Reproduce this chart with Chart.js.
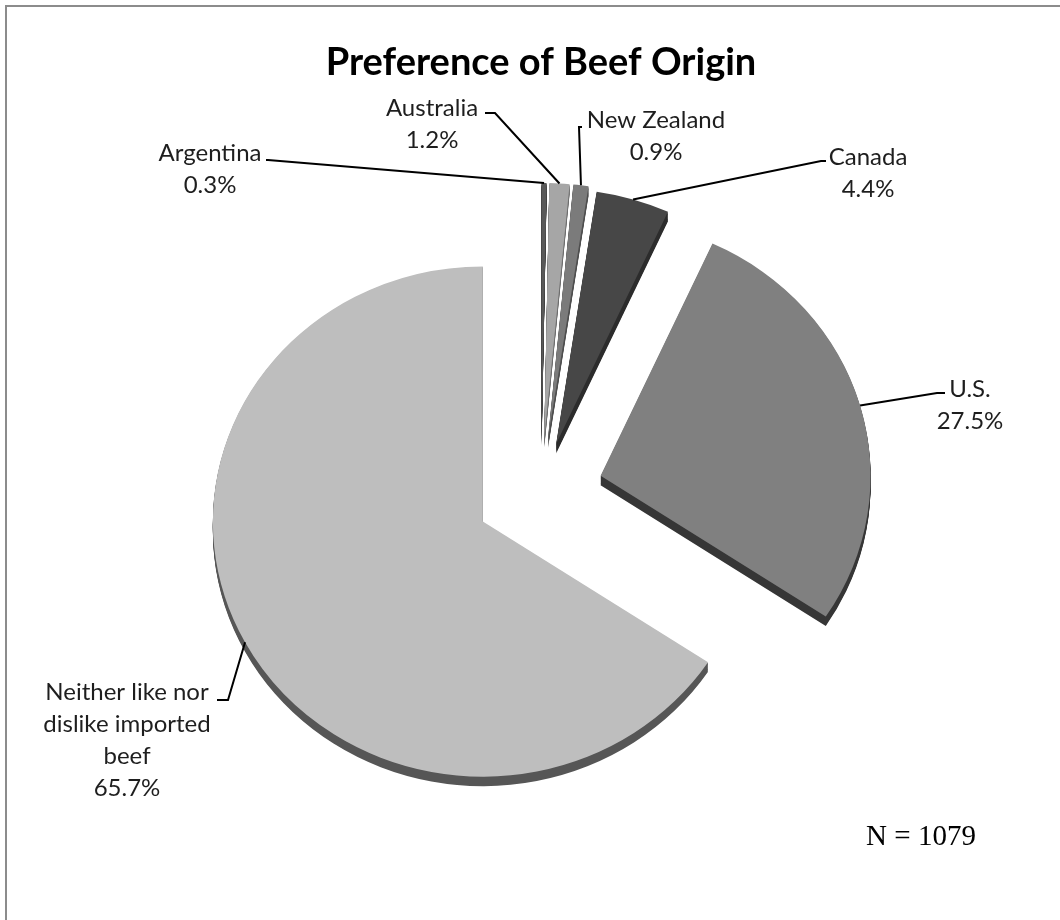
<!DOCTYPE html>
<html>
<head>
<meta charset="utf-8">
<title>Preference of Beef Origin</title>
<script src="https://cdn.jsdelivr.net/npm/chart.js@4.4.1/dist/chart.umd.min.js"></script>
<style>
  html, body { margin: 0; padding: 0; background: #fff; }
  #pie { display: block; }
</style>
</head>
<body>
<canvas id="pie" width="1060" height="920"></canvas>
<script>
// survey answers, clockwise from 12 o'clock
const categories = ['Argentina', 'Australia', 'New Zealand', 'Canada', 'U.S.',
    ['Neither like nor', 'dislike imported', 'beef']];
const shares = [0.3, 1.2, 0.9, 4.4, 27.5, 65.7];
const sampleSize = 1079;

// slice styling, same order as categories
const topColors = ['#595959', '#a6a6a6', '#7b7b7b', '#474747', '#808080', '#bebebe'];
const wallColors = ['#3a3a3a', '#6e6e6e', '#4e4e4e', '#2c2c2c', '#363636', '#565656'];
const explode = [57, 57, 57, 53, 62, 66];   // px each slice is pulled out
const depth = 10;                             // thickness of the pie
const tilt = 0.945;                           // vertical squash of the tilted pie

// where each label sits: text centre x, first line y, short stub before the leader
const labelLayout = [
    {x: 210, y: 153, stub: [266, 160, 268, 160]},
    {x: 432, y: 108, stub: [485, 113, 495, 113]},
    {x: 656, y: 120, stub: [582, 127, 579, 127]},
    {x: 868, y: 157, stub: [826, 161, 821, 161]},
    {x: 970, y: 389, stub: [945, 393, 937, 393]},
    {x: 127, y: 692, stub: [217, 700, 228, 700]}
];
const lineGap = 32;
const labelFont = '24px Lato';

function pieCentre(chart) {
    const area = chart.chartArea;
    return {cx: (area.left + area.right) / 2, cy: (area.top + area.bottom) / 2};
}

const framePlugin = {
    id: 'frame',
    beforeDraw(chart) {
        const ctx = chart.ctx;
        ctx.save();
        ctx.strokeStyle = '#8c8c8c';
        ctx.lineWidth = 2;
        ctx.strokeRect(6, 6, 2000, 2000);
        ctx.restore();
    }
};

// pull slices away from the centre, tilt the pie and draw the side walls under it
const wallPlugin = {
    id: 'walls',
    beforeDatasetsDraw(chart) {
        const ctx = chart.ctx;
        const {cx, cy} = pieCentre(chart);
        const arcs = chart.getDatasetMeta(0).data;
        arcs.forEach((arc, i) => {
            const mid = (arc.startAngle + arc.endAngle) / 2;
            arc.x = cx + Math.cos(mid) * explode[i];
            arc.y = cy + Math.sin(mid) * explode[i];
        });
        ctx.save();
        ctx.translate(0, cy * (1 - tilt));
        ctx.scale(1, tilt);
        arcs.forEach((arc, i) => {
            ctx.fillStyle = wallColors[i];
            for (let d = 1; d <= depth; d++) {
                ctx.beginPath();
                ctx.moveTo(arc.x, arc.y + d);
                ctx.arc(arc.x, arc.y + d, arc.outerRadius, arc.startAngle, arc.endAngle);
                ctx.closePath();
                ctx.fill();
            }
        });
    },
    afterDatasetsDraw(chart) {
        chart.ctx.restore();
    }
};

const labelPlugin = {
    id: 'sliceLabels',
    afterDatasetsDraw(chart) {
        const ctx = chart.ctx;
        const {cy} = pieCentre(chart);
        const arcs = chart.getDatasetMeta(0).data;
        ctx.save();
        arcs.forEach((arc, i) => {
            const lay = labelLayout[i];
            const mid = (arc.startAngle + arc.endAngle) / 2;
            const ax = arc.x + Math.cos(mid) * arc.outerRadius;
            const ay = cy + (arc.y + Math.sin(mid) * arc.outerRadius - cy) * tilt;

            ctx.strokeStyle = '#000';
            ctx.lineWidth = 2;
            ctx.beginPath();
            ctx.moveTo(lay.stub[0], lay.stub[1]);
            ctx.lineTo(lay.stub[2], lay.stub[3]);
            ctx.lineTo(ax, ay);
            ctx.stroke();

            const name = chart.data.labels[i];
            const lines = (Array.isArray(name) ? name : [name]).concat(shares[i].toFixed(1) + '%');
            ctx.fillStyle = '#1e1e1e';
            ctx.font = labelFont;
            ctx.textAlign = 'center';
            ctx.textBaseline = 'middle';
            lines.forEach((t, k) => ctx.fillText(t, lay.x, lay.y + k * lineGap));
        });
        ctx.restore();
    }
};

const notePlugin = {
    id: 'sampleNote',
    afterDraw(chart) {
        const ctx = chart.ctx;
        ctx.save();
        ctx.fillStyle = '#000';
        ctx.font = '29px "Liberation Serif"';
        ctx.textAlign = 'center';
        ctx.textBaseline = 'middle';
        ctx.fillText('N = ' + sampleSize, 921, 837);
        ctx.restore();
    }
};

new Chart(document.getElementById('pie'), {
    type: 'pie',
    data: {
        labels: categories,
        datasets: [{
            data: shares,
            backgroundColor: topColors,
            borderWidth: 0
        }]
    },
    options: {
        responsive: false,
        animation: false,
        events: [],
        radius: 270,
        layout: {
            padding: {left: 22, right: 0, top: 0, bottom: 21.6}
        },
        plugins: {
            legend: {display: false},
            tooltip: {enabled: false},
            title: {
                display: true,
                text: 'Preference of Beef Origin',
                color: '#000',
                font: {family: 'Lato', size: 38, weight: 'bold', lineHeight: 1.2},
                padding: {top: 40, bottom: 0}
            }
        }
    },
    plugins: [framePlugin, wallPlugin, labelPlugin, notePlugin]
});
</script>
</body>
</html>
